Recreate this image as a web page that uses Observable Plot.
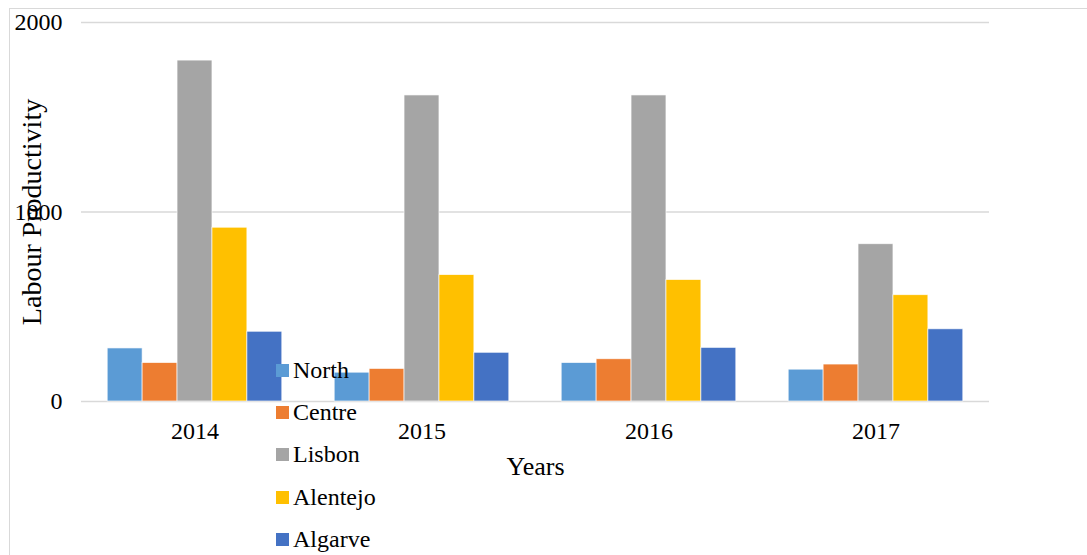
<!DOCTYPE html>
<html>
<head>
<meta charset="utf-8">
<script src="https://cdn.jsdelivr.net/npm/d3@7"></script>
<script src="https://cdn.jsdelivr.net/npm/@observablehq/plot@0.6"></script>
<style>
  html, body { margin: 0; padding: 0; background: #fff; }
  #wrap { position: relative; width: 1087px; height: 555px; overflow: hidden; font-family: "Liberation Serif", "Times New Roman", serif; }
  #frame { position: absolute; left: 9px; top: 8px; width: 1200px; height: 700px; border-left: 1.5px solid #d9d9d9; border-top: 1.5px solid #d9d9d9; box-sizing: border-box; }
  #chart { position: absolute; left: 0; top: 0; }
  #legend { position: absolute; left: 276px; top: 349px; font-size: 24px; color: #000; }
  .row { display: flex; align-items: center; height: 42.3px; }
  .sw { width: 13px; height: 13px; margin-right: 4px; }
</style>
</head>
<body>
<div id="wrap">
  <div id="frame"></div>
  <div id="chart"></div>
  <div id="legend"></div>
</div>
<script>
const years = ["2014", "2015", "2016", "2017"];
const regions = ["North", "Centre", "Lisbon", "Alentejo", "Algarve"];
const north    = [280, 152, 203, 168];
const centre   = [203, 172, 223, 195];
const lisbon   = [1799, 1615, 1615, 830];
const alentejo = [917, 667, 641, 561];
const algarve  = [368, 257, 283, 381];
const colors = ["#5b9bd5", "#ed7d31", "#a5a5a5", "#ffc000", "#4472c4"];
const yTicks = [0, 1000, 2000];
const yTitle = "Labour Productivity";
const xTitle = "Years";

const series = [north, centre, lisbon, alentejo, algarve];
const data = [];
years.forEach((yr, i) => {
  regions.forEach((r, j) => data.push({year: yr, region: r, value: series[j][i]}));
});

const chart = Plot.plot({
  width: 1087,
  height: 555,
  marginLeft: 80,
  marginRight: 97,
  marginTop: 22,
  marginBottom: 154,
  style: {fontFamily: "'Liberation Serif', 'Times New Roman', serif", fontSize: "24px", color: "#000", background: "transparent", overflow: "visible"},
  fx: {domain: years, padding: 0},
  x: {domain: regions, paddingInner: 0, paddingOuter: 0.75, round: false, axis: null},
  y: {domain: [0, 2000]},
  color: {domain: regions, range: colors},
  marks: [
    Plot.gridY(yTicks, {stroke: "#d9d9d9", strokeOpacity: 1, strokeWidth: 1.5}),
    Plot.barY(data, {fx: "year", x: "region", y: "value", fill: "region", stroke: "#ffffff", strokeWidth: 0.8, strokeOpacity: 0.8}),
    Plot.axisY({ticks: yTicks, tickSize: 0, tickPadding: 19, tickFormat: d => String(d), fontSize: 24, label: null}),
    Plot.axisY({ticks: [], tickSize: 0, fontSize: 28,
      label: yTitle, labelAnchor: "center", labelArrow: "none", labelOffset: 60}),
    Plot.axisFx({anchor: "bottom", tickSize: 0, tickPadding: 20, fontSize: 24, label: null}),
    Plot.axisFx({anchor: "bottom", ticks: [], tickSize: 0, fontSize: 26,
      label: xTitle, labelAnchor: "center", labelArrow: "none", labelOffset: 73})
  ]
});
document.getElementById("chart").appendChild(chart);

const legend = document.getElementById("legend");
regions.forEach((r, j) => {
  const row = document.createElement("div");
  row.className = "row";
  const sw = document.createElement("div");
  sw.className = "sw";
  sw.style.background = colors[j];
  const t = document.createElement("span");
  t.textContent = r;
  row.appendChild(sw);
  row.appendChild(t);
  legend.appendChild(row);
});
</script>
</body>
</html>
